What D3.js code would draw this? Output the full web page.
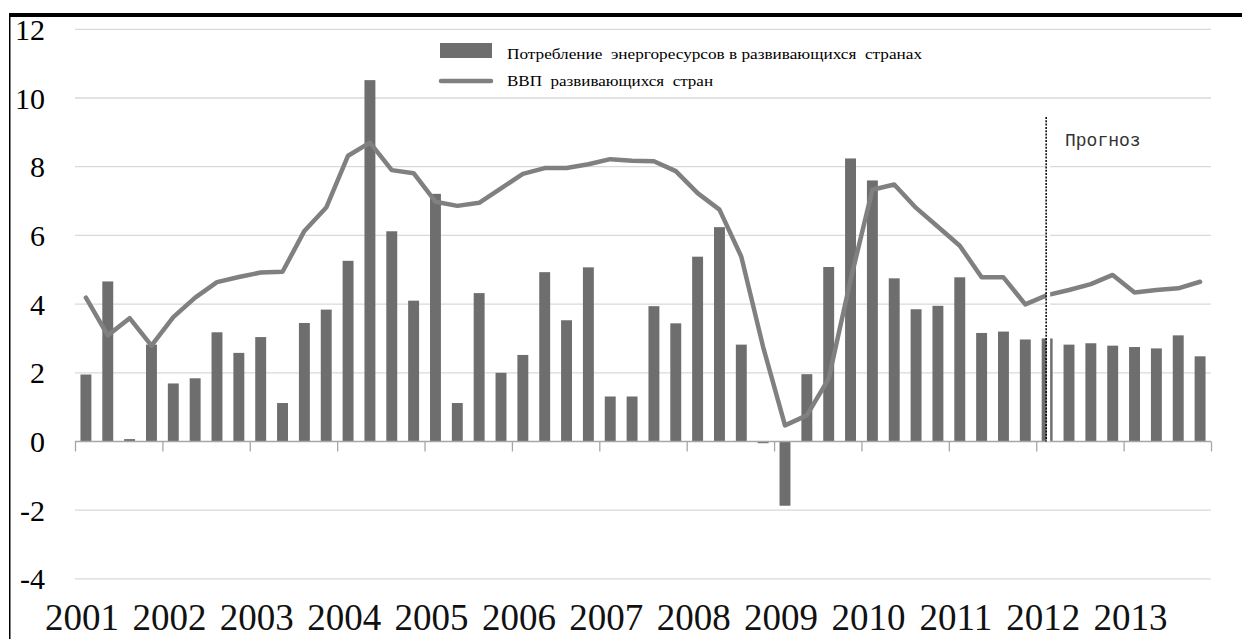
<!DOCTYPE html>
<html>
<head>
<meta charset="utf-8">
<script src="https://cdn.jsdelivr.net/npm/d3@7"></script>
<style>
  html, body { margin: 0; padding: 0; background: #fff; }
  svg { display: block; }
</style>
</head>
<body>
<svg id="chart" width="1242" height="639"></svg>
<script>
// ---- data ----
const years = ["2001","2002","2003","2004","2005","2006","2007","2008","2009","2010","2011","2012","2013"];
const quarters = years.flatMap(y => ["Q1","Q2","Q3","Q4"].map(q => y + q));
const consumption = [
  1.95, 4.66, 0.07, 2.82,
  1.69, 1.84, 3.18, 2.58,
  3.04, 1.12, 3.45, 3.84,
  5.26, 10.52, 6.12, 4.10,
  7.21, 1.12, 4.32, 2.00,
  2.52, 4.93, 3.53, 5.07,
  1.31, 1.31, 3.94, 3.44,
  5.38, 6.24, 2.82, -0.05,
  -1.87, 1.96, 5.08, 8.24,
  7.60, 4.75, 3.85, 3.95,
  4.78, 3.16, 3.20, 2.97,
  3.00, 2.82, 2.86, 2.79,
  2.75, 2.71, 3.09, 2.48
];
const gdp = [
  4.19, 3.09, 3.59, 2.79,
  3.62, 4.19, 4.64, 4.79,
  4.92, 4.94, 6.13, 6.81,
  8.32, 8.70, 7.90, 7.81,
  6.98, 6.86, 6.95, 7.37,
  7.79, 7.96, 7.96, 8.07,
  8.22, 8.17, 8.16, 7.87,
  7.23, 6.75, 5.38, 2.75,
  0.47, 0.76, 1.83, 4.70,
  7.33, 7.48, 6.80, 6.25,
  5.70, 4.78, 4.78, 3.99,
  4.26, 4.41, 4.58, 4.85,
  4.34, 4.41, 4.46, 4.65
];
const yTicks = [-4, -2, 0, 2, 4, 6, 8, 10, 12];
const seriesNames = ["Потребление  энергоресурсов в развивающихся  странах", "ВВП  развивающихся  стран"];
const forecastLabel = "Прогноз";
const forecastStart = "2012Q1";

// ---- layout ----
const svg = d3.select("#chart");
const x0 = 75, x1 = 1211;
const x = d3.scaleBand().domain(quarters).range([x0, x1]).paddingInner(0.5).paddingOuter(0.25);
const xYear = d3.scaleBand().domain(years).range([x0, x1]);
const y = d3.scaleLinear().domain([-4, 12]).range([578.9, 29.3]);
const serif = "Liberation Serif, Times New Roman, serif";

// frame
svg.append("rect").attr("x", 9).attr("y", 13).attr("width", 1233).attr("height", 4).attr("fill", "#000");
svg.append("rect").attr("x", 9).attr("y", 13).attr("width", 1.5).attr("height", 626).attr("fill", "#000");

// gridlines
svg.append("g").selectAll("line").data(yTicks.filter(d => d !== 0)).join("line")
  .attr("x1", x0).attr("x2", x1)
  .attr("y1", d => y(d)).attr("y2", d => y(d))
  .attr("stroke", "#d9d9d9").attr("stroke-width", 1.3);

// y labels
svg.append("g").selectAll("text").data(yTicks).join("text")
  .attr("x", 45).attr("y", d => y(d))
  .attr("text-anchor", "end").attr("dominant-baseline", "central")
  .attr("font-family", serif)
  .attr("font-size", 30).attr("fill", "#000")
  .text(d => d);

// bars
svg.append("g").selectAll("rect").data(quarters).join("rect")
  .attr("x", d => x(d))
  .attr("width", x.bandwidth())
  .attr("y", (d, i) => y(Math.max(0, consumption[i])))
  .attr("height", (d, i) => Math.abs(y(consumption[i]) - y(0)))
  .attr("fill", "#6e6e6e");

// x axis
const axisG = svg.append("g").attr("transform", `translate(0,${y(0)})`);
const xAxis = d3.axisBottom(d3.scaleLinear().domain([0, years.length]).range([x0, x1]))
  .tickValues(d3.range(0, years.length + 1)).tickSize(10).tickFormat("");
axisG.call(xAxis);
axisG.select(".domain").attr("stroke", "#a6a6a6").attr("stroke-width", 1.3).attr("d", `M${x0},0H${x1}`);
axisG.selectAll(".tick line").attr("stroke", "#a6a6a6").attr("stroke-width", 1.3);

// year labels
svg.append("g").selectAll("text").data(years).join("text")
  .attr("x", d => xYear(d) + 7)
  .attr("y", 630)
  .attr("text-anchor", "middle")
  .attr("font-family", serif)
  .attr("font-size", 37).attr("fill", "#111")
  .text(d => d);

// line
const cx = d => x(d) + x.bandwidth() / 2;
const line = d3.line().x((d, i) => cx(quarters[i])).y(d => y(d));
svg.append("path").datum(gdp)
  .attr("d", line)
  .attr("fill", "none").attr("stroke", "#808080")
  .attr("stroke-width", 4.5).attr("stroke-linejoin", "round").attr("stroke-linecap", "round");

// forecast divider
const fx = cx(forecastStart) - 1;
svg.append("rect").attr("x", fx + 0.5).attr("y", 117).attr("width", 3.5).attr("height", y(0) - 117)
  .attr("fill", "#fff");
svg.append("line").attr("x1", fx).attr("x2", fx).attr("y1", 117).attr("y2", y(0))
  .attr("stroke", "#000").attr("stroke-width", 1.5).attr("stroke-dasharray", "2,1.3");
svg.append("text").attr("x", 1065).attr("y", 146)
  .attr("font-family", "Liberation Mono, Courier New, monospace")
  .attr("font-size", 18).attr("fill", "#333")
  .text(forecastLabel);

// legend
const lg = svg.append("g");
lg.append("rect").attr("x", 440).attr("y", 43).attr("width", 52).attr("height", 15).attr("fill", "#6e6e6e");
lg.append("line").attr("x1", 441).attr("x2", 491).attr("y1", 81).attr("y2", 81)
  .attr("stroke", "#808080").attr("stroke-width", 4.5).attr("stroke-linecap", "round");
lg.append("text").attr("x", 507).attr("y", 59)
  .attr("font-family", serif).attr("font-size", 14)
  .style("white-space", "pre")
  .attr("textLength", 415).attr("lengthAdjust", "spacingAndGlyphs")
  .text(seriesNames[0]);
lg.append("text").attr("x", 507).attr("y", 86)
  .attr("font-family", serif).attr("font-size", 14)
  .style("white-space", "pre")
  .attr("textLength", 206).attr("lengthAdjust", "spacingAndGlyphs")
  .text(seriesNames[1]);
</script>
</body>
</html>
